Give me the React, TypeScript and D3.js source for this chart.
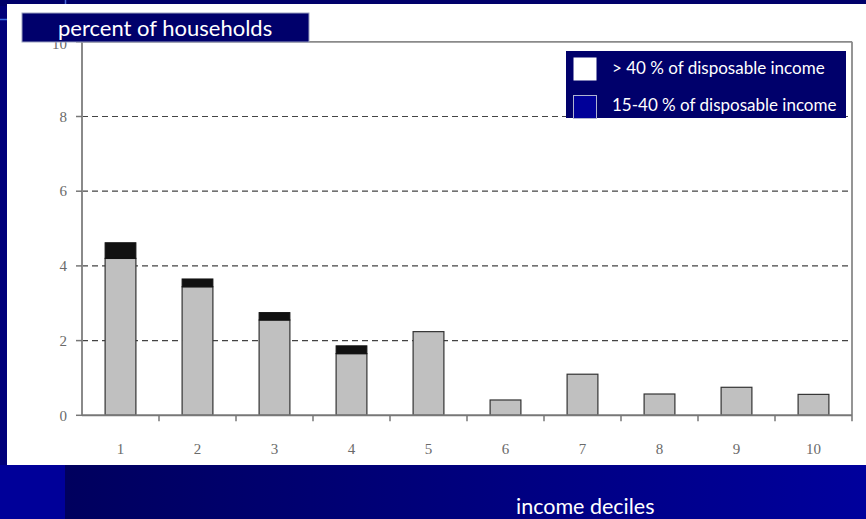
import React from "react";
import * as d3 from "d3";

const categories = ["1", "2", "3", "4", "5", "6", "7", "8", "9", "10"];
const share15to40 = [4.2, 3.44, 2.55, 1.65, 2.24, 0.41, 1.1, 0.57, 0.75, 0.56];
const shareOver40 = [0.42, 0.21, 0.2, 0.21, 0, 0, 0, 0, 0, 0];
const yTicks = [0, 2, 4, 6, 8, 10];
const gridTicks = [2, 4, 6, 8];
const yAxisTitle = "percent of households";
const xAxisTitle = "income deciles";
const legendLabels = ["> 40 % of disposable income", "15-40 % of disposable income"];

const W = 866;
const H = 519;

export default function App() {
  const x = d3.scaleBand<string>().domain(categories).range([82, 852]).paddingInner(0.6).paddingOuter(0.3);
  const y = d3.scaleLinear().domain([0, 10]).range([415.3, 41.8]);
  const step = x.step();
  const serif = "'Liberation Serif', 'DejaVu Serif', serif";
  const sans = "Lato, 'Open Sans', sans-serif";

  return (
    <svg width={W} height={H} style={{ position: "fixed", left: 0, top: 0 }}>
      <defs>
        <linearGradient id="bottomGrad" x1="0" x2="1" y1="0" y2="0">
          <stop offset="0" stopColor="#00005e" />
          <stop offset="1" stopColor="#00009c" />
        </linearGradient>
      </defs>
      {/* slide background */}
      <rect x={0} y={0} width={W} height={H} fill="#00007a" />
      <rect x={0} y={0} width={W} height={6} fill="#00006a" />
      <rect x={65} y={465} width={W - 65} height={H - 465} fill="url(#bottomGrad)" />
      <rect x={0} y={465} width={65} height={H - 465} fill="#000099" />
      <line x1={65.5} x2={65.5} y1={0} y2={5} stroke="#4a6ad8" strokeWidth={1.5} />
      <line x1={0} x2={8} y1={19.5} y2={19.5} stroke="#3a6ae0" strokeWidth={1.5} />

      {/* white panel */}
      <rect x={7} y={4} width={W - 7} height={461} fill="#ffffff" />

      {/* grid */}
      {gridTicks.map((t) => (
        <line key={"g" + t} x1={82} x2={852} y1={y(t)} y2={y(t)} stroke="#444" strokeWidth={1.2} strokeDasharray="6,4" />
      ))}

      {/* frame */}
      <line x1={82} x2={852} y1={y(10)} y2={y(10)} stroke="#8a8a8a" strokeWidth={1.8} />
      <line x1={852} x2={852} y1={y(10)} y2={y(0) + 6} stroke="#8a8a8a" strokeWidth={1.8} />

      {/* bars */}
      {categories.map((c, i) => (
        <g key={"b" + c}>
          <rect
            x={x(c)!}
            y={y(share15to40[i])}
            width={x.bandwidth()}
            height={y(0) - y(share15to40[i])}
            fill="#c0c0c0"
            stroke="#333"
            strokeWidth={1.2}
          />
          {shareOver40[i] > 0 && (
            <rect
              x={x(c)!}
              y={y(share15to40[i] + shareOver40[i])}
              width={x.bandwidth()}
              height={y(share15to40[i]) - y(share15to40[i] + shareOver40[i])}
              fill="#111"
              stroke="#111"
              strokeWidth={1}
            />
          )}
        </g>
      ))}

      {/* y axis */}
      <line x1={82} x2={82} y1={y(10)} y2={y(0)} stroke="#8a8a8a" strokeWidth={2} />
      {yTicks.map((t) => (
        <g key={"y" + t}>
          <line x1={76} x2={82} y1={y(t)} y2={y(t)} stroke="#777" strokeWidth={1.5} />
          <text x={67} y={t === 10 ? y(t) + 2 : y(t)} dy="0.35em" textAnchor="end" fontFamily={serif} fontSize={15} fill="#6a6a6a">
            {t}
          </text>
        </g>
      ))}

      {/* x axis */}
      <line x1={82} x2={852} y1={y(0)} y2={y(0)} stroke="#777" strokeWidth={2} />
      {categories.slice(1).map((c) => (
        <line key={"t" + c} x1={x(c)! - (step - x.bandwidth()) / 2} x2={x(c)! - (step - x.bandwidth()) / 2} y1={y(0)} y2={y(0) + 6} stroke="#777" strokeWidth={1.5} />
      ))}
      {categories.map((c) => (
        <text key={"l" + c} x={x(c)! + x.bandwidth() / 2} y={454} textAnchor="middle" fontFamily={serif} fontSize={15} fill="#6a6a6a">
          {c}
        </text>
      ))}

      {/* y title box */}
      <rect x={22} y={13} width={287} height={29} fill="#00006b" stroke="#9aa0c0" strokeWidth={1} />
      <text x={58} y={35.5} fontFamily={sans} fontSize={22} fill="#ffffff">
        {yAxisTitle}
      </text>

      {/* legend */}
      <rect x={566} y={51} width={280} height={67} fill="#00006b" />
      <rect x={573.5} y={57.5} width={23} height={23} fill="#ffffff" />
      <rect x={573.5} y={95.5} width={23} height={23} fill="#000099" stroke="#b0b4d0" strokeWidth={1} />
      <text x={612} y={73.5} fontFamily={sans} fontSize={17} fill="#ffffff">
        {legendLabels[0]}
      </text>
      <text x={612} y={110.5} fontFamily={sans} fontSize={17} fill="#ffffff">
        {legendLabels[1]}
      </text>

      {/* x title */}
      <text x={516} y={514} fontFamily={sans} fontSize={21.5} fill="#ffffff">
        {xAxisTitle}
      </text>
    </svg>
  );
}
